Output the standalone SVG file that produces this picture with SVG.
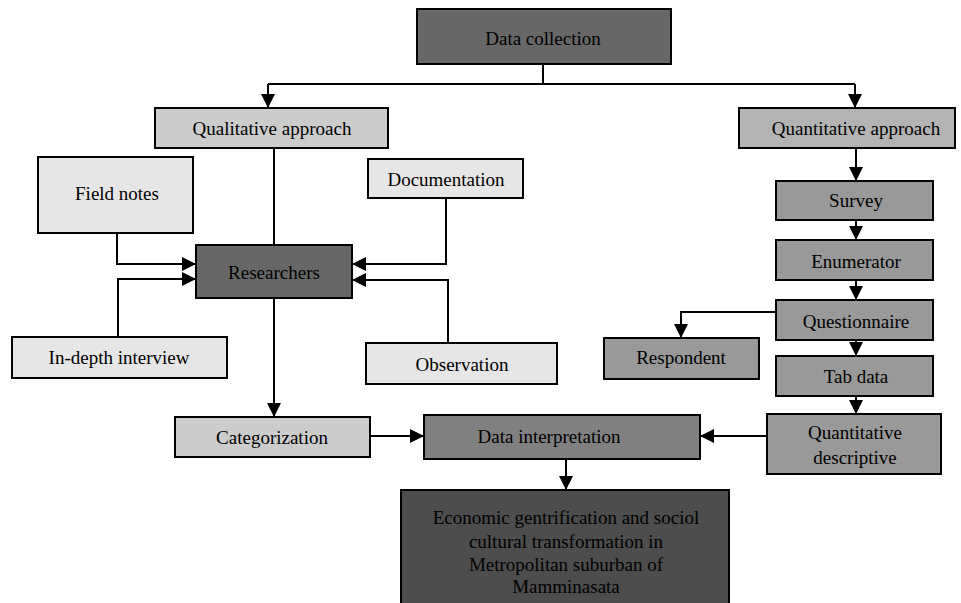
<svg xmlns="http://www.w3.org/2000/svg" width="961" height="603" viewBox="0 0 961 603">
<defs>
<marker id="ah" viewBox="0 0 10 10" refX="10" refY="5" markerWidth="7" markerHeight="7" markerUnits="strokeWidth" orient="auto">
<path d="M0,0 L10,5 L0,10 Z" fill="#000"/>
</marker>
</defs>
<style>
.b{stroke:#000;stroke-width:2}
text{font-family:"Liberation Serif","Times New Roman",serif;font-size:19px;fill:#000;text-anchor:middle;dominant-baseline:central}
.c line,.c polyline{stroke:#000;stroke-width:2;fill:none}
.a{marker-end:url(#ah)}
.l1{fill:#e6e6e6}.l2{fill:#cccccc}.l3{fill:#b3b3b3}.m{fill:#999999}.d1{fill:#808080}.d2{fill:#676767}.d3{fill:#4d4d4d}
</style>
<rect width="961" height="603" fill="#fff"/>
<g class="c" id="connectors">
<line x1="543" y1="64" x2="543" y2="84"/>
<line x1="268" y1="84" x2="855" y2="84"/>
<line class="a" x1="268" y1="84" x2="268" y2="108"/>
<line class="a" x1="855" y1="84" x2="855" y2="108"/>
<line x1="274" y1="148" x2="274" y2="245"/>
<polyline class="a" points="117,233 117,264 196,264"/>
<polyline class="a" points="118,337 118,279 196,279"/>
<polyline class="a" points="446,198 446,264 352,264"/>
<polyline class="a" points="448,343 448,280 352,280"/>
<line class="a" x1="274" y1="298" x2="274" y2="417"/>
<line class="a" x1="370" y1="436" x2="424" y2="436"/>
<line class="a" x1="566" y1="459" x2="566" y2="490"/>
<line class="a" x1="856" y1="148" x2="856" y2="181"/>
<line class="a" x1="856" y1="220" x2="856" y2="240"/>
<line class="a" x1="856" y1="280" x2="856" y2="300"/>
<polyline class="a" points="776,312 681,312 681,338"/>
<line class="a" x1="856" y1="340" x2="856" y2="356"/>
<line class="a" x1="856" y1="396" x2="856" y2="414"/>
<line class="a" x1="767" y1="436" x2="700" y2="436"/>
</g>
<g id="data-collection"><rect class="b d2" x="417" y="9" width="254" height="55"/><text x="543" y="38">Data collection</text></g>
<g id="qualitative"><rect class="b l2" x="155" y="108" width="233" height="40"/><text x="272" y="128">Qualitative approach</text></g>
<g id="quantitative"><rect class="b l3" x="739" y="108" width="216" height="40"/><text x="856" y="128">Quantitative approach</text></g>
<g id="field-notes"><rect class="b l1" x="38" y="157" width="155" height="76"/><text x="117" y="193">Field notes</text></g>
<g id="documentation"><rect class="b l1" x="368" y="159" width="155" height="39"/><text x="446" y="179">Documentation</text></g>
<g id="researchers"><rect class="b d2" x="196" y="245" width="156" height="53"/><text x="274" y="272">Researchers</text></g>
<g id="in-depth"><rect class="b l1" x="12" y="337" width="215" height="41"/><text x="119" y="357">In-depth interview</text></g>
<g id="observation"><rect class="b l1" x="366" y="343" width="191" height="41"/><text x="462" y="364">Observation</text></g>
<g id="categorization"><rect class="b l2" x="175" y="417" width="195" height="40"/><text x="272" y="437">Categorization</text></g>
<g id="data-interpretation"><rect class="b d1" x="424" y="415" width="276" height="44"/><text x="549" y="436">Data interpretation</text></g>
<g id="economic"><rect class="b d3" x="401" y="490" width="328" height="120"/><text x="566" y="517">Economic gentrification and sociol</text><text x="566" y="541">cultural transformation in</text><text x="566" y="564">Metropolitan suburban of</text><text x="566" y="586">Mamminasata</text></g>
<g id="survey"><rect class="b m" x="776" y="181" width="157" height="39"/><text x="856" y="200">Survey</text></g>
<g id="enumerator"><rect class="b m" x="776" y="240" width="157" height="40"/><text x="856" y="261">Enumerator</text></g>
<g id="questionnaire"><rect class="b m" x="776" y="300" width="157" height="40"/><text x="856" y="321">Questionnaire</text></g>
<g id="respondent"><rect class="b m" x="604" y="338" width="155" height="41"/><text x="681" y="357">Respondent</text></g>
<g id="tab-data"><rect class="b m" x="776" y="356" width="157" height="40"/><text x="856" y="376">Tab data</text></g>
<g id="quant-descriptive"><rect class="b m" x="767" y="414" width="174" height="60"/><text x="855" y="432">Quantitative</text><text x="855" y="457">descriptive</text></g>
</svg>
